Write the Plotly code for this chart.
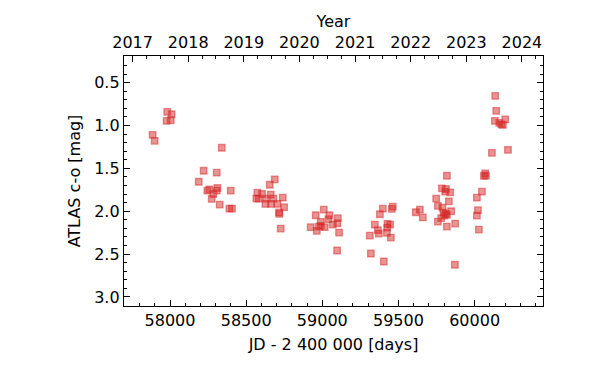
import plotly.graph_objects as go

# JD - 2400000 [days]
jd = [57886, 57899.5, 57982, 58011, 57978, 58005,
      58188.6, 58221, 58245, 58258, 58284.5, 58274, 58307, 58311, 58307, 58326.5, 58340, 58399, 58390, 58407,
      58567, 58583, 58573.6, 58604.5, 58626, 58631, 58655, 58661.6, 58663.6, 58679, 58688, 58705, 58718, 58716,
      58727, 58740.5, 58749,
      58924, 58957, 58964, 58977, 58990, 58990, 59010, 59016, 59040, 59046.7, 59069, 59099, 59102, 59110, 59097,
      59312, 59318.7, 59345, 59364.7, 59371, 59378, 59397.5, 59404, 59424, 59426, 59428, 59445.5, 59450, 59456.6, 59463,
      59614, 59640.6, 59660,
      59747.7, 59759, 59759, 59785, 59780.6, 59789, 59795.6, 59802, 59807, 59811.5, 59811.5, 59818, 59818, 59818,
      59831, 59840, 59846, 59872.5, 59870.6,
      60015, 60015, 60021.7, 60028, 60048, 60061, 60074, 60069.6,
      60113.6, 60133, 60135.3, 60142, 60161.6, 60175, 60186, 60201, 60219]
# ATLAS c-o [mag]
co = [1.109, 1.179, 0.842, 0.869, 0.947, 0.938,
      1.656, 1.528, 1.760, 1.744, 1.799, 1.857, 1.551, 1.729, 1.760, 1.923, 1.260, 1.760, 1.970, 1.970,
      1.853, 1.853, 1.784, 1.799, 1.915, 1.853, 1.691, 1.807, 1.915, 1.853, 1.628, 1.915, 2.031, 2.014,
      2.202, 1.842, 1.953,
      2.186, 2.047, 2.229, 2.179, 2.171, 2.124, 1.981, 2.186, 2.093, 2.047, 2.156, 2.140, 2.081, 2.249, 2.458,
      2.284, 2.493, 2.156, 2.221, 2.260, 2.035, 1.970, 2.586, 2.252, 2.191, 2.148, 2.156, 2.307, 1.973, 1.947,
      2.012, 1.981, 2.072,
      1.853, 1.938, 2.121, 1.733, 2.081, 1.958, 2.016, 2.051, 1.772, 1.741, 2.031, 1.586, 2.043, 2.179,
      1.884, 1.779, 2.000, 2.144, 2.624,
      1.842, 2.051, 1.988, 2.214, 1.772, 1.586, 1.586, 1.558,
      1.319, 0.947, 0.656, 0.830, 0.970, 0.988, 0.993, 0.930, 1.284]

jd_ticks = [58000, 58500, 59000, 59500, 60000]
mag_ticks = [0.5, 1.0, 1.5, 2.0, 2.5, 3.0]
years = [2017, 2018, 2019, 2020, 2021, 2022, 2023, 2024]
year_jd = [57754.5, 58119.5, 58484.5, 58849.5, 59215.5, 59580.5, 59945.5, 60310.5]

x_range = [57698, 60449]
y_range = [3.105, 0.19]

quarter_jd = []
for i in range(len(year_jd) - 1):
    span = year_jd[i + 1] - year_jd[i]
    for q in (1, 2, 3):
        quarter_jd.append(year_jd[i] + q * span / 4)
quarter_jd.insert(0, year_jd[0] - 365.25 / 4)
quarter_jd.append(year_jd[-1] + 365.25 / 4)
quarter_jd.append(year_jd[-1] + 2 * 365.25 / 4)

red = "rgba(214,39,40,0.5)"
font = dict(family="DejaVu Sans", size=16, color="black")

fig = go.Figure()
fig.add_trace(go.Scatter(
    x=jd, y=co, mode="markers",
    marker=dict(symbol="square", size=6.5, color=red, line=dict(color=red, width=1.3)),
    showlegend=False, hoverinfo="x+y"))
fig.add_trace(go.Scatter(
    x=jd, y=co, xaxis="x2", mode="markers",
    marker=dict(opacity=0), showlegend=False, hoverinfo="skip"))

axis_common = dict(showline=True, linecolor="black", linewidth=1.3, ticks="inside",
                   tickcolor="black", tickwidth=1, showgrid=False, zeroline=False,
                   tickfont=font, automargin=False)

# page body has an 8px margin, so the figure is sized to fit the window
fig.update_layout(
    width=601, height=358,
    margin=dict(l=116, r=66, t=48, b=60),
    plot_bgcolor="white", paper_bgcolor="white",
    font=font,
    xaxis=dict(range=x_range, tickvals=jd_ticks, ticktext=[str(v) for v in jd_ticks], ticklen=6,
               minor=dict(dtick=100, tick0=58000, ticks="inside", ticklen=3, tickcolor="black"),
               title=dict(text="JD - 2 400 000 [days]", font=font, standoff=9),
               mirror=False, **axis_common),
    xaxis2=dict(range=x_range, overlaying="x", side="top", tickvals=year_jd,
                ticktext=[str(y) for y in years], ticklen=6,
                minor=dict(tickvals=quarter_jd, ticks="inside", ticklen=3, tickcolor="black"),
                title=dict(text="Year", font=font, standoff=1),
                mirror=False, **axis_common),
    yaxis=dict(range=y_range, tickvals=mag_ticks,
               ticktext=["%.1f" % v for v in mag_ticks], ticklen=6,
               minor=dict(dtick=0.1, tick0=0, ticks="inside", ticklen=3, tickcolor="black"),
               title=dict(text="ATLAS c-o [mag]", font=font, standoff=9),
               mirror="ticks", **axis_common),
)

fig.write_html("out.html")
